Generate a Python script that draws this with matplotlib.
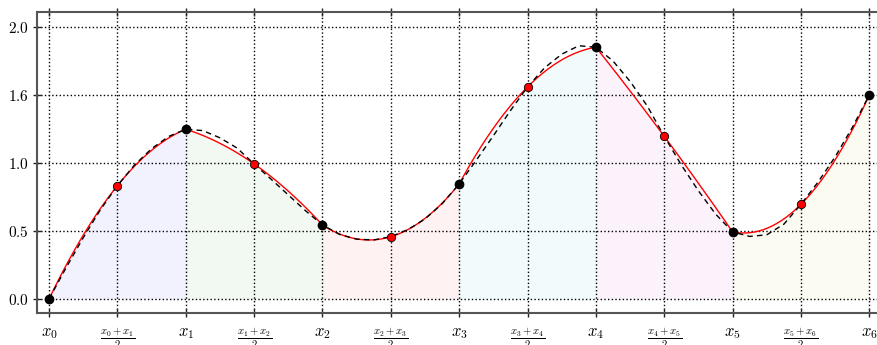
import numpy as np
import matplotlib
matplotlib.use("Agg")
import matplotlib.pyplot as plt

plt.rcParams['mathtext.fontset'] = 'cm'

# ---- data ----
x_nodes = [0, 1, 2, 3, 4, 5, 6]
y_nodes = [0.0, 1.248, 0.544, 0.846, 1.851, 0.493, 1.5]
x_mids = [0.5, 1.5, 2.5, 3.5, 4.5, 5.5]
y_mids = [0.833, 0.993, 0.458, 1.559, 1.196, 0.696]

# underlying (dashed) function, read every 0.125
x_true = np.linspace(0, 6, 49)
y_true = [0.0, 0.23, 0.45, 0.655, 0.833, 0.985, 1.105, 1.195,
          1.248, 1.238, 1.185, 1.11, 0.993, 0.88, 0.765, 0.65,
          0.544, 0.475, 0.44, 0.434, 0.458, 0.51, 0.588, 0.70,
          0.846, 1.02, 1.20, 1.385, 1.559, 1.70, 1.80, 1.862,
          1.851, 1.75, 1.60, 1.42, 1.196, 0.985, 0.795, 0.625,
          0.493, 0.46, 0.472, 0.55, 0.696, 0.86, 1.045, 1.26,
          1.5]

node_labels = [r'$x_0$', r'$x_1$', r'$x_2$', r'$x_3$', r'$x_4$', r'$x_5$', r'$x_6$']
mid_labels = [r'$\frac{x_0+x_1}{2}$', r'$\frac{x_1+x_2}{2}$', r'$\frac{x_2+x_3}{2}$',
              r'$\frac{x_3+x_4}{2}$', r'$\frac{x_4+x_5}{2}$', r'$\frac{x_5+x_6}{2}$']
ytick_pos = [0.0, 0.5, 1.0, 1.5, 2.0]
ytick_labels = ['$0.0$', '$0.5$', '$1.0$', '$1.6$', '$2.0$']
seg_colors = ['b', 'g', 'r', 'c', 'm', 'y']

fig = plt.figure(figsize=(8.77, 3.45), dpi=100)
ax = fig.add_axes([37 / 877, 32 / 345, 846 / 877, 301 / 345])

# Simpson parabolas per segment
for i in range(6):
    xs = [x_nodes[i], x_mids[i], x_nodes[i + 1]]
    ys = [y_nodes[i], y_mids[i], y_nodes[i + 1]]
    coef = np.polyfit(xs, ys, 2)
    xx = np.linspace(xs[0], xs[2], 60)
    yy = np.polyval(coef, xx)
    ax.fill_between(xx, 0, yy, color=seg_colors[i], alpha=0.05, linewidth=0, zorder=1)
    ax.plot(xx, yy, color='red', lw=1.0, zorder=3)

ax.plot(x_true, y_true, color='black', lw=1.0, dashes=(4, 3), zorder=4)
ax.plot(x_mids, y_mids, 'o', color='red', mec='black', mew=0.6, ms=6, zorder=5)
ax.plot(x_nodes, y_nodes, 'o', color='black', mec='black', ms=6, zorder=5)

ax.set_xlim(-0.088, 6.1)
ax.set_ylim(-0.103, 2.11)
ax.set_xticks(x_nodes)
ax.set_xticklabels(node_labels, fontsize=12)
ax.set_xticks(x_mids, minor=True)
ax.set_xticklabels(mid_labels, minor=True, fontsize=11)
ax.set_yticks(ytick_pos)
ax.set_yticklabels(ytick_labels, fontsize=11)
ax.grid(True, which='both', axis='x', color='black', linestyle=':', linewidth=1.0)
ax.grid(True, which='major', axis='y', color='black', linestyle=':', linewidth=1.0)
ax.tick_params(which='both', direction='inout', length=6, width=1, color='#222222',
               top=True, right=False)
ax.tick_params(axis='x', which='major', pad=4.5)
ax.tick_params(axis='x', which='minor', pad=6.5)
ax.tick_params(axis='y', pad=3)
for s in ax.spines.values():
    s.set_color('#555555')
    s.set_linewidth(1.5)

fig.savefig('out.png', dpi=100)
